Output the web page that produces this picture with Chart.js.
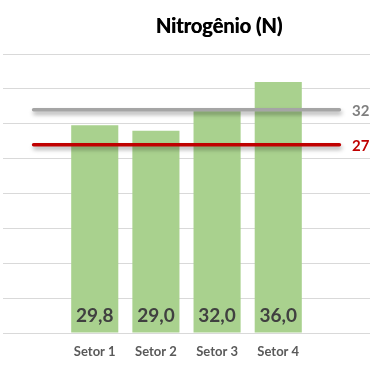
<!DOCTYPE html>
<html>
<head>
<meta charset="utf-8">
<script src="https://cdn.jsdelivr.net/npm/chart.js@4/dist/chart.umd.min.js"></script>
<style>
html,body{margin:0;padding:0;background:#fff;}
#wrap{width:386px;height:369px;position:relative;}
</style>
</head>
<body>
<div id="wrap"><canvas id="c" width="386" height="369"></canvas></div>
<script>
const categories = ['', 'Setor 1', 'Setor 2', 'Setor 3', 'Setor 4', ''];
const nitrogenValues = [null, 29.8, 29.0, 32.0, 36.0, null];
const upperLimit = [32, 32, 32, 32, 32, 32];
const lowerLimit = [27, 27, 27, 27, 27, 27];
const titleText = 'Nitrogênio (N)';
const FONT = 'Lato, "Open Sans", sans-serif';

const overlay = {
  id: 'overlay',
  beforeDatasetDraw(chart, args) {
    if (chart.data.datasets[args.index].type === 'line') {
      const ctx = chart.ctx;
      ctx.save();
      ctx.shadowColor = 'rgba(0,0,0,0.35)';
      ctx.shadowBlur = 4;
      ctx.shadowOffsetX = 1;
      ctx.shadowOffsetY = 3;
    }
  },
  afterDatasetDraw(chart, args) {
    if (chart.data.datasets[args.index].type === 'line') chart.ctx.restore();
  },
  afterDraw(chart) {
    const ctx = chart.ctx;
    const y = chart.scales.y;
    ctx.save();
    ctx.fillStyle = '#000';
    ctx.font = 'bold 20px ' + FONT;
    ctx.textAlign = 'center';
    ctx.textBaseline = 'alphabetic';
    ctx.fillText(titleText, 219, 33);
    ctx.fillText(titleText, 219.4, 33);
    const meta = chart.getDatasetMeta(0);
    ctx.font = 'bold 19px ' + FONT;
    ctx.fillStyle = '#404040';
    ctx.textBaseline = 'middle';
    meta.data.forEach((el, i) => {
      const v = nitrogenValues[i];
      if (v == null) return;
      ctx.fillText(v.toFixed(1).replace('.', ','), el.x, y.getPixelForValue(0) - 17);
    });
    ctx.textAlign = 'left';
    ctx.font = 'bold 15px ' + FONT;
    [[1, '#7f7f7f'], [2, '#c00000']].forEach(([di, col]) => {
      const d = chart.data.datasets[di].data;
      const v = d[d.length - 1];
      ctx.fillStyle = col;
      ctx.fillText(String(v), 352, y.getPixelForValue(v) + 1);
    });
    ctx.restore();
  }
};

new Chart(document.getElementById('c'), {
  type: 'bar',
  data: {
    labels: categories,
    datasets: [
      { type: 'bar', data: nitrogenValues, backgroundColor: '#a9d18e',
        categoryPercentage: 1, barPercentage: 0.77, order: 3 },
      { type: 'line', data: upperLimit, borderColor: '#a5a5a5', borderWidth: 3.5,
        pointRadius: 0, borderCapStyle: 'round', order: 1 },
      { type: 'line', data: lowerLimit, borderColor: '#c00000', borderWidth: 3.5,
        pointRadius: 0, borderCapStyle: 'round', order: 0 }
    ]
  },
  options: {
    responsive: false,
    animation: false,
    devicePixelRatio: 1,
    layout: { padding: { left: 3, right: 16, top: 54, bottom: 0 } },
    plugins: { legend: { display: false }, tooltip: { enabled: false }, title: { display: false } },
    scales: {
      x: {
        grid: { display: false, drawTicks: false },
        border: { display: false },
        ticks: { color: '#595959', font: { family: FONT, size: 13, weight: 'bold' }, padding: 11, maxRotation: 0 },
        afterFit(scale) { scale.height = 36; }
      },
      y: {
        min: 0, max: 40,
        ticks: { display: false, stepSize: 5 },
        grid: { color: '#d9d9d9', drawTicks: false, lineWidth: 1 },
        border: { display: false }
      }
    }
  },
  plugins: [overlay]
});
</script>
</body>
</html>
